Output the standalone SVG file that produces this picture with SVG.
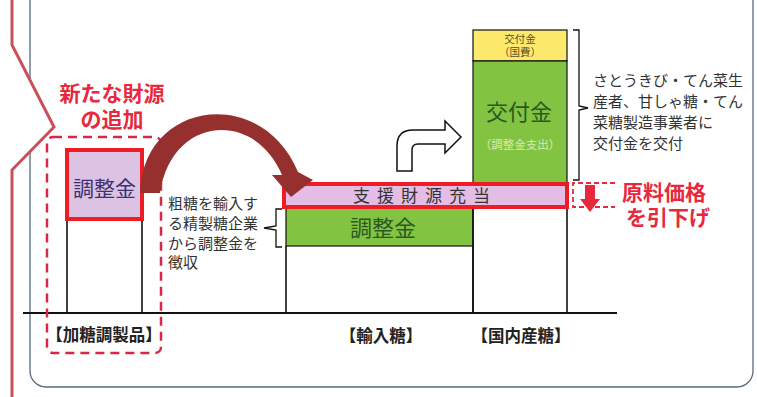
<svg xmlns="http://www.w3.org/2000/svg" width="757" height="397" viewBox="0 0 757 397">
<style>
text{font-family:"Liberation Sans","Noto Sans CJK JP",sans-serif}
.col{fill:none;stroke:#111;stroke-width:1.6}
.lbl{font-size:16.5px;font-weight:bold;fill:#222}
.note{font-size:15px;fill:#333}
.red{font-size:21px;font-weight:bold;fill:#e8283c}
.redbox{stroke:#ee1c25;stroke-width:4}
.dash{fill:none;stroke:#d8284a;stroke-width:2.5;stroke-dasharray:9 6}
.green{fill:#82c341;stroke:#111;stroke-width:1.2}
</style>
<rect width="757" height="397" fill="#fff"/>
<g id="frame">
<rect x="30" y="-20" width="723" height="407" rx="16" fill="#fff" stroke="#5a6a80" stroke-width="1.3"/>
<polygon points="0,0 12,0 12,45 54,127 12,170 12,397 0,397" fill="#fff"/>
<polyline points="12,0 12,45 54,127 12,170 12,397" fill="none" stroke="#c8505a" stroke-width="3"/>
</g>
<g id="axis"><line x1="23" y1="313" x2="617" y2="313" stroke="#111" stroke-width="2"/></g>
<g id="kato">
<polyline class="col" points="67,219 67,313"/>
<polyline class="col" points="142,219 142,313"/>
<rect class="redbox" x="67" y="150" width="75" height="69" fill="#dcc3e3"/>
<text x="104.5" y="196" font-size="21" text-anchor="middle" fill="#3c3070">調整金</text>
<rect class="dash" x="47" y="137" width="114" height="216" rx="6"/>
<text class="red" text-anchor="middle"><tspan x="112" y="101">新たな財源</tspan><tspan x="112" y="127">の追加</tspan></text>
<text class="lbl" x="104" y="341" text-anchor="middle">【加糖調製品】</text>
</g>
<g id="kato-note">
<text class="note"><tspan x="168" y="209">粗糖を輸入す</tspan><tspan x="168" y="229">る精製糖企業</tspan><tspan x="168" y="249">から調整金を</tspan><tspan x="168" y="268">徴収</tspan></text>
<path d="M282,209 H276 V226 L264,228 L276,230 V247 H282" fill="none" stroke="#111" stroke-width="1.3"/>
</g>
<g id="yunyu">
<polyline class="col" points="286,246 286,313"/>
<polyline class="col" points="473,246 473,313"/>
<rect class="green" x="286" y="207" width="187" height="39"/>
<text x="383" y="236" font-size="22" text-anchor="middle" fill="#2a5a22">調整金</text>
<text class="lbl" x="381" y="342" text-anchor="middle">【輸入糖】</text>
</g>
<g id="kokunai">
<polyline class="col" points="473,207 473,313"/>
<polyline class="col" points="567,207 567,313"/>
<rect x="473" y="30" width="94" height="31" fill="#fdea6c" stroke="#111" stroke-width="1.2"/>
<text font-size="10.5" text-anchor="middle" fill="#5a5020"><tspan x="520" y="43">交付金</tspan><tspan x="520" y="56">（国費）</tspan></text>
<rect class="green" x="473" y="61" width="94" height="122"/>
<text x="519" y="120" font-size="22" text-anchor="middle" fill="#2a5a22">交付金</text>
<text x="520" y="149" font-size="11.5" text-anchor="middle" fill="#d6ebb8">（調整金支出）</text>
<text class="lbl" x="521" y="342" text-anchor="middle">【国内産糖】</text>
</g>
<g id="shien">
<rect class="redbox" x="284" y="184" width="283" height="23" fill="#e3bde3"/>
<text x="425" y="202" font-size="17" text-anchor="middle" letter-spacing="7" fill="#333">支援財源充当</text>
</g>
<g id="kofu-note">
<path d="M573,30 H579 V106 L588,108 L579,110 V180 H573" fill="none" stroke="#111" stroke-width="1.3"/>
<text class="note"><tspan x="593" y="86">さとうきび・てん菜生</tspan><tspan x="593" y="107">産者、甘しゃ糖・てん</tspan><tspan x="593" y="128">菜糖製造事業者に</tspan><tspan x="593" y="149">交付金を交付</tspan></text>
</g>
<g id="hikisage">
<path d="M615,183 H573 V207 H615" fill="none" stroke="#e8283c" stroke-width="1.8" stroke-dasharray="5 3"/>
<polygon points="585,185 595,185 595,199 600,199 590,212 580,199 585,199" fill="#e8283c"/>
<text class="red" font-size="22"><tspan x="622" y="200">原料価格</tspan><tspan x="626" y="225">を引下げ</tspan></text>
</g>
<g id="connectors">
<path d="M140,193 C143,100 262,85 298,172 L313,180 L291,197 L272,175 L282,175 C255,110 172,115 160,193 Z" fill="#96302f"/>
<path d="M397,171 V146 Q397,130 413,130 H445 V121 L461,137 L445,153 V144 H418 Q412,144 412,150 V171 Z" fill="#fff" stroke="#111" stroke-width="1.5"/>
</g>
</svg>
